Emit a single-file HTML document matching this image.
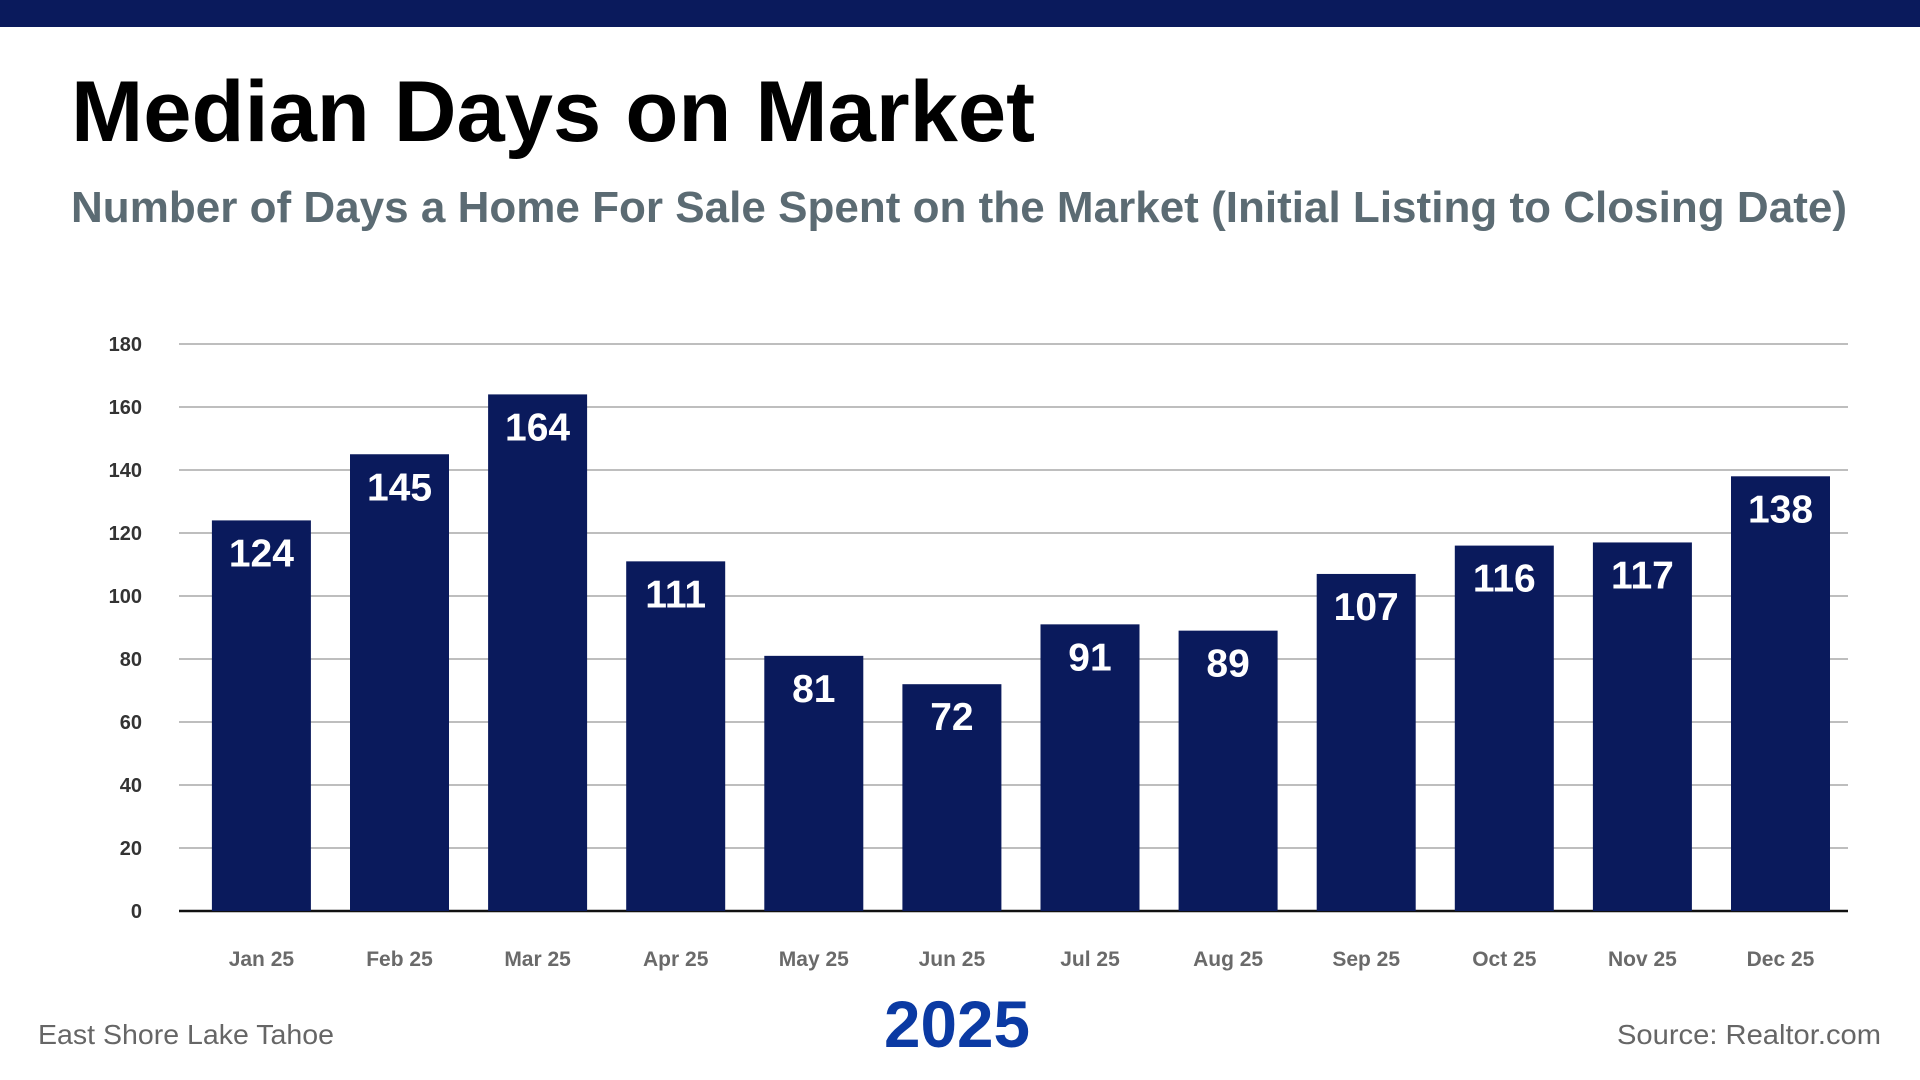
<!DOCTYPE html>
<html><head><meta charset="utf-8"><style>
html,body{margin:0;padding:0;background:#fff;}
svg{display:block;font-family:"Liberation Sans",sans-serif;}
</style></head><body>
<svg id="chart" width="1920" height="1080" viewBox="0 0 1920 1080">
<rect x="0" y="0" width="1920" height="27" fill="#0a1a5c"/>
<text x="71" y="141" font-size="86" font-weight="bold" fill="#000" textLength="964" lengthAdjust="spacingAndGlyphs">Median Days on Market</text>
<text x="71" y="222" font-size="44" font-weight="bold" fill="#5b6b73" textLength="1776" lengthAdjust="spacingAndGlyphs">Number of Days a Home For Sale Spent on the Market (Initial Listing to Closing Date)</text>
<g id="grid"></g>
<g id="bars"></g>
<text x="957" y="1047" font-size="66" font-weight="bold" fill="#0b3aa3" text-anchor="middle" textLength="146" lengthAdjust="spacingAndGlyphs">2025</text>
<text x="38" y="1044" font-size="28" fill="#666" textLength="296" lengthAdjust="spacingAndGlyphs">East Shore Lake Tahoe</text>
<text x="1881" y="1044" font-size="28" fill="#666" text-anchor="end" textLength="264" lengthAdjust="spacingAndGlyphs">Source: Realtor.com</text>
</svg>
<script>
const categories = ["Jan 25","Feb 25","Mar 25","Apr 25","May 25","Jun 25","Jul 25","Aug 25","Sep 25","Oct 25","Nov 25","Dec 25"];
const values = [124,145,164,111,81,72,91,89,107,116,117,138];
const yTicks = [0,20,40,60,80,100,120,140,160,180];

const NS = "http://www.w3.org/2000/svg";
const plotLeft = 179, plotRight = 1848, yTop = 344, yBase = 911, yMax = 180;
const firstCenter = 261.4, step = 138.1, barW = 99;
function yScale(v){ return yBase - (v / yMax) * (yBase - yTop); }
function xScale(i){ return firstCenter + i * step; }
function mk(tag, attrs, parent){
  const e = document.createElementNS(NS, tag);
  for (const k in attrs) e.setAttribute(k, attrs[k]);
  parent.appendChild(e);
  return e;
}
const grid = document.getElementById('grid');
yTicks.forEach(t => {
  const y = yScale(t);
  const ln = mk('line', {x1: plotLeft, x2: plotRight, y1: y, y2: y, stroke: t === 0 ? '#111' : '#a8a8a8', 'stroke-width': t === 0 ? 2.5 : 1.5}, grid);
  
  
  const tx = mk('text', {x: 142, y: y + 7, 'font-size': 20, 'font-weight': 'bold', fill: '#333', 'text-anchor': 'end'}, grid);
  tx.textContent = t;
  
  
});
const bars = document.getElementById('bars');
categories.forEach((c, i) => {
  const cx = xScale(i), v = values[i], y = yScale(v);
  const r = mk('rect', {x: cx - barW / 2, y: y, width: barW, height: yBase - y, fill: '#0a1a5c'}, bars);
  
  
  const vl = mk('text', {x: cx, y: y + 46, 'font-size': 39, 'font-weight': 'bold', fill: '#fff', 'text-anchor': 'middle'}, bars);
  vl.textContent = v;
  
  
  const xl = mk('text', {x: cx, y: 966, 'font-size': 21, 'font-weight': 'bold', fill: '#6a6a6a', 'text-anchor': 'middle'}, bars);
  xl.textContent = c;
  
  
});
</script>
</body></html>
